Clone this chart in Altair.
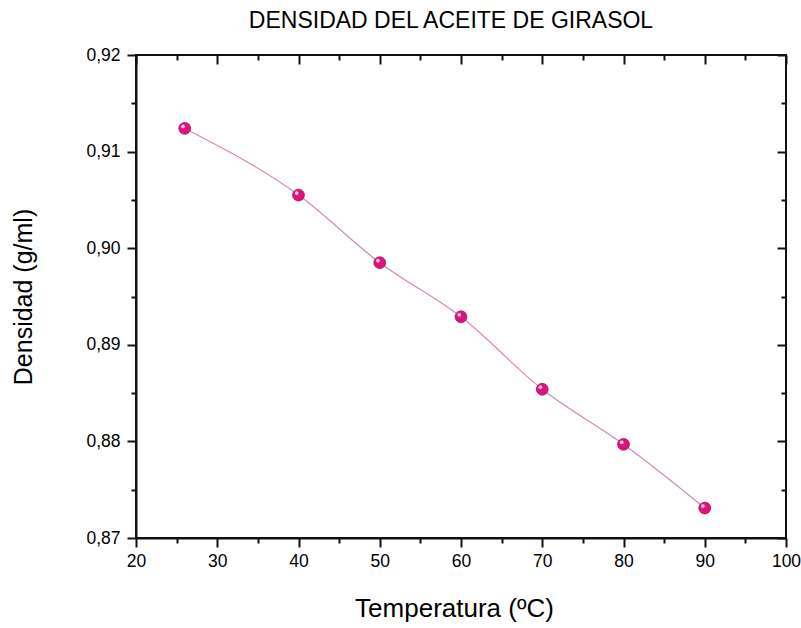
import altair as alt
import pandas as pd

temperatura = [26, 40, 50, 60, 70, 80, 90]
densidad = [0.9124, 0.9055, 0.8985, 0.8929, 0.8854, 0.8797, 0.8731]

x_major = [20, 30, 40, 50, 60, 70, 80, 90, 100]
x_minor = [25, 35, 45, 55, 65, 75, 85, 95]
y_major = [0.87, 0.88, 0.89, 0.90, 0.91, 0.92]
y_minor = [0.875, 0.885, 0.895, 0.905, 0.915]

df = pd.DataFrame({"t": temperatura, "d": densidad})
FONT = "Liberation Sans"

xs = alt.Scale(domain=[20, 100], nice=False, zero=False)
ys = alt.Scale(domain=[0.87, 0.92], nice=False, zero=False)

MAJ, MIN = 9, 5
TW = 2
TC = "#111111"


def tick_axis(orient, values, size, offset):
    return alt.Axis(orient=orient, values=values, grid=False, domain=False,
                    labels=False, ticks=True, tickColor=TC, tickWidth=TW,
                    tickSize=size, offset=offset, title=None)


line = alt.Chart(df).mark_line(color="#d088b6", strokeWidth=1.2, interpolate="monotone").encode(
    x=alt.X("t:Q", scale=xs, title="Temperatura (ºC)",
            axis=alt.Axis(orient="bottom", values=x_major, grid=False, domain=True,
                          domainColor=TC, domainWidth=TW, ticks=True,
                          tickColor=TC, tickWidth=TW, tickSize=MAJ,
                          labelFont=FONT, labelFontSize=17.5, labelColor="black",
                          labelPadding=5, labelFlush=False,
                          titleFont=FONT, titleFontSize=26, titleFontWeight="normal",
                          titleColor="black", titlePadding=26, titleX=318)),
    y=alt.Y("d:Q", scale=ys, title="Densidad (g/ml)",
            axis=alt.Axis(orient="left", values=y_major, grid=False, domain=True,
                          domainColor=TC, domainWidth=TW, ticks=True,
                          tickColor=TC, tickWidth=TW, tickSize=MAJ,
                          labelExpr="replace(format(datum.value, '.2f'), '.', ',')",
                          labelFont=FONT, labelFontSize=17.5, labelColor="black",
                          labelPadding=7, labelFlush=False,
                          titleFont=FONT, titleFontSize=25, titleFontWeight="normal",
                          titleColor="black", titlePadding=49)),
)

minor_ticks = alt.Chart(df).mark_point(opacity=0).encode(
    x=alt.X("t:Q", scale=xs, axis=tick_axis("bottom", x_minor, MIN, 0)),
    y=alt.Y("d:Q", scale=ys, axis=tick_axis("left", y_minor, MIN, 0)),
)

pts = alt.Chart(df).mark_circle(size=140, color="#e0127c", opacity=1,
                                stroke="#b00a5c", strokeWidth=0.8).encode(
    x=alt.X("t:Q", scale=xs, axis=tick_axis("top", x_major, MAJ, -MAJ)),
    y=alt.Y("d:Q", scale=ys, axis=tick_axis("right", y_major, MAJ, -MAJ)),
)

hl = alt.Chart(df).mark_circle(size=14, color="#ffd6ea", opacity=0.95,
                               xOffset=-1.8, yOffset=-2).encode(
    x=alt.X("t:Q", scale=xs, axis=tick_axis("top", x_minor, MIN, -MIN)),
    y=alt.Y("d:Q", scale=ys, axis=tick_axis("right", y_minor, MIN, -MIN)),
)

chart = alt.layer(line, minor_ticks, pts, hl).resolve_axis(x="independent", y="independent").properties(
    width=650, height=483,
    title=alt.TitleParams("DENSIDAD DEL ACEITE DE GIRASOL", font=FONT, fontSize=23,
                          fontWeight="normal", color="black", anchor="middle",
                          offset=13, dx=-10),
    autosize=alt.AutoSizeParams(type="none"),
    padding={"left": 136, "top": 55, "right": 15, "bottom": 90},
    background="white",
).configure_view(stroke=TC, strokeWidth=TW)

chart.save("out.html", embed_options={"renderer": "svg", "actions": False})
